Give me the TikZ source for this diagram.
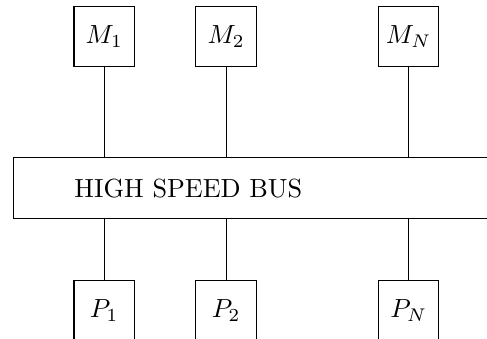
\documentclass[tikz,border=0pt]{standalone}
\usepackage{amsmath}
\usepackage{tikz}
\usetikzlibrary{positioning}
\tikzset{
  unitbox/.style={rectangle,draw=black,minimum size=0.81cm,inner sep=0pt},
  busbox/.style={rectangle,draw=black,minimum height=0.818cm,text width=4.86cm,inner xsep=0.82cm,align=left},
  link/.style={draw=black}
}

\begin{document}
\begin{tikzpicture}[node distance=0.811cm]
  \clip (0,0) rectangle (6.53,-4.533);
  \node[unitbox] (m1) at (1.397,-0.486) {$M_1$};
  \node[unitbox,right=of m1] (m2) {$M_2$};
  \node[unitbox,right=1.623cm of m2] (mN) {$M_N$};
  \node[busbox,below=1.21cm of m1.south west,anchor=north west,xshift=-0.814cm] (bus) {HIGH SPEED BUS};
  \node[unitbox,below=0.81cm of bus.south-|m1] (p1) {$P_1$};
  \node[unitbox,below=0.81cm of bus.south-|m2] (p2) {$P_2$};
  \node[unitbox,below=0.81cm of bus.south-|mN] (pN) {$P_N$};

  \foreach \n in {1,2,N}{
    \draw[link] (m\n.south) -- (m\n.south|-bus.north);
    \draw[link] (p\n.north) -- (p\n.north|-bus.south);
  }
\end{tikzpicture}
\end{document}
